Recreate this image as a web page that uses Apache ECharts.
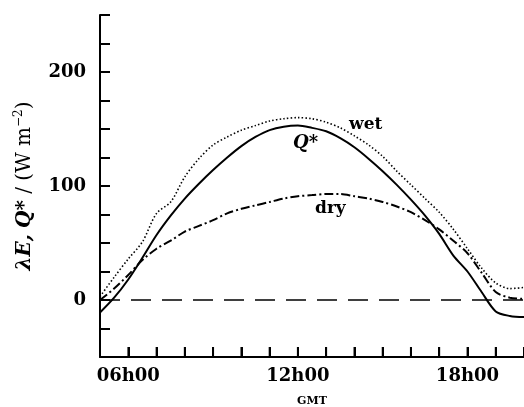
<!DOCTYPE html>
<html>
<head>
<meta charset="utf-8">
<script src="https://cdn.jsdelivr.net/npm/echarts@6/dist/echarts.min.js"></script>
<style>html,body{margin:0;padding:0;background:#fff}#c{width:524px;height:407px}</style>
</head>
<body>
<div id="c"></div>
<script>
// Hours (GMT)
var hours = [5, 5.5, 6, 6.5, 7, 7.5, 8, 8.5, 9, 9.5, 10, 10.5, 11, 11.5, 12, 12.5, 13, 13.5, 14, 14.5, 15, 15.5, 16, 16.5, 17, 17.5, 18, 18.5, 19, 19.5, 20];
// Net radiation Q* (solid)
var qStar = [-11, 2, 18, 37, 57, 74, 89, 102, 114, 125, 135, 143, 149, 152, 153, 151, 148, 142, 134, 124, 113, 101, 88, 74, 58, 39, 25, 7, -10, -14, -15];
// lambda E wet (dotted)
var wet = [3, 20, 36, 51, 76, 86, 108, 124, 136, 143, 149, 153, 157, 159, 160, 159, 156, 151, 144, 136, 126, 113, 101, 89, 77, 62, 45, 28, 15, 10, 11];
// lambda E dry (dash-dot)
var dry = [0, 10, 22, 35, 45, 52, 60, 65, 70, 76, 80, 83, 86, 89, 91, 92, 93, 93, 91, 89, 86, 82, 77, 70, 62, 52, 41, 24, 7, 2, 1];
// zero reference line
var zeroHours = [5, 20];
var zeroVals = [0, 0];
// hourly tick positions on the time axis
var xTickHours = [6, 7, 8, 9, 10, 11, 12, 13, 14, 15, 16, 17, 18, 19];
// tick labels
var xTickLabels = {6: '06h00', 12: '12h00', 18: '18h00'};
var yTickLabels = [0, 100, 200];
var Y_MIN = -50;

function pairs(xs, ys) { return xs.map(function (x, i) { return [x, ys[i]]; }); }

var FONT = '"DejaVu Serif", "Liberation Serif", serif';
var chart = echarts.init(document.getElementById('c'), null, {renderer: 'canvas'});
chart.setOption({
  animation: false,
  backgroundColor: '#fff',
  grid: {left: 100, right: 0, top: 15, bottom: 50, containLabel: false, outerBoundsMode: 'none'},
  xAxis: {
    type: 'value', min: 5, max: 20, interval: 1, position: 'bottom',
    name: 'GMT', nameLocation: 'middle', nameGap: 39,
    nameTextStyle: {fontFamily: FONT, fontWeight: 'bold', fontSize: 11, color: '#000'},
    axisLine: {show: true, onZero: false, lineStyle: {color: '#000', width: 2}},
    axisTick: {show: true, inside: true, length: 10, lineStyle: {color: '#000', width: 2}},
    splitLine: {show: false},
    axisLabel: {
      fontFamily: FONT, fontWeight: 'bold', fontSize: 18, color: '#000', margin: 10,
      formatter: function (v) { return xTickLabels[v] || ''; }
    }
  },
  yAxis: {
    type: 'value', min: Y_MIN, max: 250, interval: 25,
    name: '{i|λE,} {i|Q*}{n| / (W m}{s|−2}{n|)}',
    nameLocation: 'middle', nameGap: 64,
    nameTextStyle: {
      fontFamily: FONT, fontSize: 20, color: '#000',
      rich: {
        i: {fontFamily: FONT, fontStyle: 'italic', fontWeight: 'bold', fontSize: 20, color: '#000'},
        n: {fontFamily: FONT, fontSize: 20, color: '#000'},
        s: {fontFamily: FONT, fontSize: 12, color: '#000', padding: [0, 0, 11, 0]}
      }
    },
    axisLine: {show: true, lineStyle: {color: '#000', width: 2}},
    axisTick: {show: true, inside: true, length: 10, lineStyle: {color: '#000', width: 2}},
    splitLine: {show: false},
    axisLabel: {
      fontFamily: FONT, fontWeight: 'bold', fontSize: 18, color: '#000', margin: 14,
      formatter: function (v) { return yTickLabels.indexOf(v) >= 0 ? String(v) : ''; }
    }
  },
  series: [
    {type: 'scatter', silent: true, z: 6,
     data: xTickHours.map(function (h) { return [h, Y_MIN]; }),
     symbol: 'rect', symbolSize: [2, 10], symbolOffset: [0, -5],
     itemStyle: {color: '#000'}},
    {type: 'line', data: pairs(zeroHours, zeroVals), symbol: 'none', silent: true,
     lineStyle: {color: '#000', width: 1.5, type: [20, 11]}},
    {type: 'line', data: pairs(hours, dry), symbol: 'none', smooth: 0.3,
     lineStyle: {color: '#000', width: 2, type: [9, 3, 2, 3]}},
    {type: 'line', data: pairs(hours, wet), symbol: 'none', smooth: 0.3,
     lineStyle: {color: '#000', width: 1.6, type: [1.5, 2.2]}},
    {type: 'line', data: pairs(hours, qStar), symbol: 'none', smooth: 0.3,
     lineStyle: {color: '#000', width: 2}}
  ],
  graphic: [
    {type: 'text', left: 349, top: 116, style: {text: 'wet', font: 'bold 17px ' + FONT, fill: '#000'}},
    {type: 'text', left: 293, top: 134, style: {text: 'Q*', font: 'italic bold 18px ' + FONT, fill: '#000'}},
    {type: 'text', left: 315, top: 200, style: {text: 'dry', font: 'bold 17px ' + FONT, fill: '#000'}}
  ]
});
</script>
</body>
</html>
